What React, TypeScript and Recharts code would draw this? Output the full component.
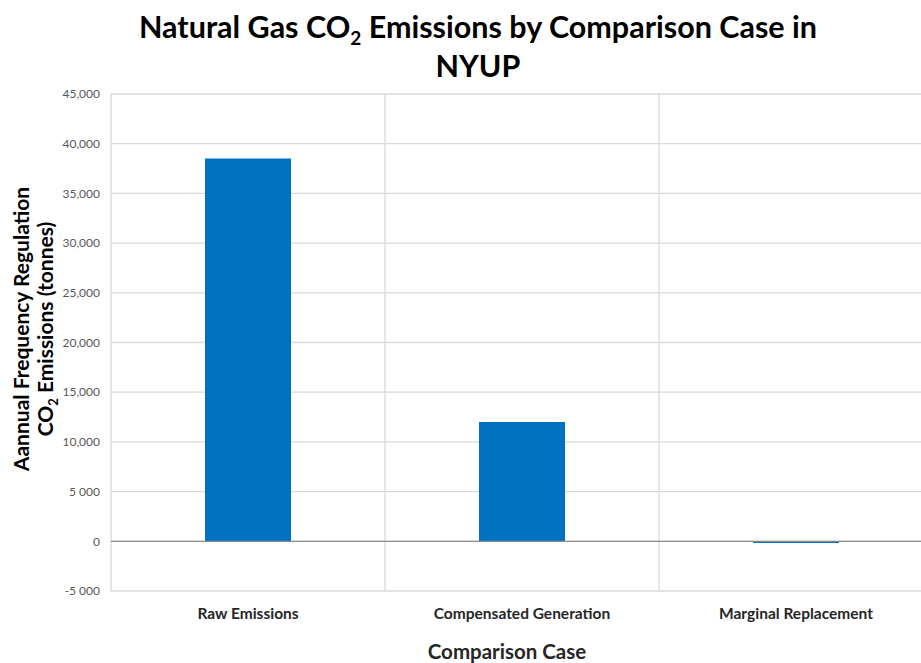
import React from 'react'
import {
  Bar,
  BarChart,
  CartesianGrid,
  ReferenceLine,
  XAxis,
  YAxis,
} from 'recharts'

const cases = ['Raw Emissions', 'Compensated Generation', 'Marginal Replacement']
const emissions = [38500, 12000, -180]
const yTicks = [-5000, 0, 5000, 10000, 15000, 20000, 25000, 30000, 35000, 40000, 45000]
const yTickLabels = ['-5 000', '0', '5 000', '10,000', '15,000', '20,000', '25,000', '30,000', '35,000', '40,000', '45,000']

const data = cases.map((name, i) => ({ name, value: emissions[i] }))

const FONT = 'Lato, "Open Sans", sans-serif'

export default function App() {
  return (
    <div
      style={{
        position: 'absolute',
        left: 0,
        top: 0,
        width: 921,
        height: 663,
        overflow: 'hidden',
        background: '#fff',
        fontFamily: FONT,
      }}
    >
      <BarChart
        width={940}
        height={663}
        data={data}
        margin={{ top: 94, right: 7, bottom: 42, left: 51 }}
      >
        <CartesianGrid
          stroke="#d9d9d9"
          strokeWidth={1.3}
          verticalCoordinatesGenerator={({ offset }) => {
            const step = offset.width / cases.length
            return [offset.left, offset.left + step, offset.left + 2 * step]
          }}
        />
        <XAxis
          dataKey="name"
          height={30}
          axisLine={false}
          tickLine={false}
          tickSize={0}
          tickMargin={17}
          tick={{ fill: '#262626', fontSize: 15.5, fontWeight: 700, fontFamily: FONT }}
        />
        <YAxis
          width={60}
          domain={[-5000, 45000]}
          ticks={yTicks}
          interval={0}
          axisLine={false}
          tickLine={false}
          tickSize={0}
          tickMargin={11}
          tickFormatter={v => yTickLabels[yTicks.indexOf(v)]}
          tick={{ fill: '#595959', fontSize: 12, fontFamily: FONT }}
        />
        <ReferenceLine y={0} stroke="#8c8c8c" strokeWidth={1.3} />
        <Bar dataKey="value" fill="#0070c0" barSize={86} isAnimationActive={false} />
      </BarChart>

      <div
        style={{
          position: 'absolute',
          left: 0,
          width: 956,
          top: 7,
          textAlign: 'center',
          fontSize: 30.5,
          fontWeight: 700,
          lineHeight: '39px',
          color: '#000',
        }}
      >
        Natural Gas CO<sub style={{ fontSize: 19, lineHeight: 0 }}>2</sub> Emissions by Comparison Case in
        <br />
        NYUP
      </div>

      <div
        style={{
          position: 'absolute',
          left: 33 - 170,
          top: 329 - 24,
          width: 340,
          height: 48,
          transform: 'rotate(-90deg)',
          textAlign: 'center',
          fontSize: 21,
          fontWeight: 700,
          lineHeight: '24px',
          color: '#000',
        }}
      >
        Aannual Frequency Regulation
        <br />
        CO<sub style={{ fontSize: 13, lineHeight: 0 }}>2</sub> Emissions (tonnes)
      </div>

      <div
        style={{
          position: 'absolute',
          left: 0,
          width: 1014,
          top: 639,
          textAlign: 'center',
          fontSize: 20.5,
          fontWeight: 700,
          color: '#262626',
        }}
      >
        Comparison Case
      </div>
    </div>
  )
}
